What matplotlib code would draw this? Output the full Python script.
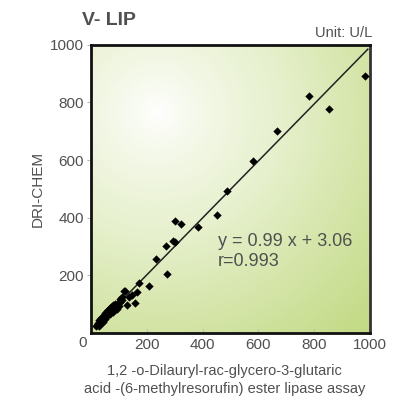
import numpy as np
import matplotlib
matplotlib.use("Agg")
import matplotlib.pyplot as plt
from matplotlib.colors import LinearSegmentedColormap

plt.rcParams["font.family"] = ["Liberation Sans", "DejaVu Sans"]

# Comparison data (U/L)
ref_x = [982, 783, 852, 668, 582, 486, 452, 382, 321, 301, 295, 302, 268, 233, 271,
         173, 207, 121, 158, 166, 149, 137, 128, 110, 104, 119,
         18, 22, 25, 28, 30, 34, 37, 40, 42, 45, 47, 50, 52, 55, 57, 60, 62, 65, 67,
         70, 72, 75, 78, 80, 84, 88, 92, 96, 100, 105, 112]
dri_y = [892, 824, 779, 702, 596, 494, 410, 369, 378, 390, 320, 314, 300, 257, 206,
         174, 164, 146, 104, 141, 132, 126, 96, 114, 108, 147,
         25, 28, 35, 22, 45, 30, 52, 40, 60, 38, 55, 48, 70, 58, 75, 62, 80, 70, 85,
         66, 90, 78, 95, 72, 88, 100, 84, 105, 92, 118, 124]

fit_x = [15, 992]
slope, intercept = 0.99, 3.06

TEXT = "#505050"

fig = plt.figure(figsize=(4.04, 4.01), dpi=100)
ax = fig.add_axes([0.225, 0.170, 0.691, 0.718])

# radial gradient background
gx, gy = np.meshgrid(np.linspace(0, 1000, 300), np.linspace(0, 1000, 300))
cx, cy = 235, 765
r = np.sqrt(((gx - cx) / 1000 * 279) ** 2 + ((gy - cy) / 1000 * 288) ** 2) / 300
r = np.clip(r, 0, 1) ** 0.8
cmap = LinearSegmentedColormap.from_list("bg", ["#ffffff", "#e6f0cc", "#c3da85"])
ax.imshow(r, extent=[0, 1000, 0, 1000], origin="lower", cmap=cmap, vmin=0, vmax=1,
          aspect="auto", zorder=0)

fx = np.array(fit_x)
ax.plot(fx, slope * fx + intercept, color="#222222", lw=1.1, zorder=2)
ax.scatter(ref_x, dri_y, marker="D", s=18, color="black", linewidths=0, zorder=3)

ax.set_xlim(0, 1000)
ax.set_ylim(0, 1000)
ax.set_xticks([200, 400, 600, 800, 1000])
ax.set_yticks([200, 400, 600, 800, 1000])
ax.tick_params(axis="x", direction="in", length=3, color="#bbbbbb", labelsize=11,
               labelcolor=TEXT, pad=4)
ax.tick_params(axis="y", direction="out", length=3, color="#bbbbbb", labelsize=11,
               labelcolor=TEXT, pad=2)
for side in ["left", "bottom", "top"]:
    ax.spines[side].set_linewidth(2)
    ax.spines[side].set_color("#111111")
ax.spines["right"].set_linewidth(2)
ax.spines["right"].set_color("#333333")

fig.text(0.205, 0.145, "0", fontsize=11, color=TEXT, ha="center", va="center")
ax.set_ylabel("DRI-CHEM", fontsize=11, color=TEXT)
ax.yaxis.set_label_coords(-0.165, 0.5)
fig.text(0.555, 0.052, "1,2 -o-Dilauryl-rac-glycero-3-glutaric\nacid -(6-methylresorufin) ester lipase assay",
         fontsize=10.5, color=TEXT, ha="center", va="center", linespacing=1.3)
fig.text(0.203, 0.95, "V- LIP", fontsize=14, fontweight="bold", color=TEXT, ha="left", va="center")
fig.text(0.922, 0.917, "Unit: U/L", fontsize=10.5, color=TEXT, ha="right", va="center")

ax.text(455, 348, "y = 0.99 x + 3.06\nr=0.993", fontsize=13, color=TEXT, ha="left",
        va="top", linespacing=1.25, zorder=4)

plt.savefig("out.png", dpi=100)
